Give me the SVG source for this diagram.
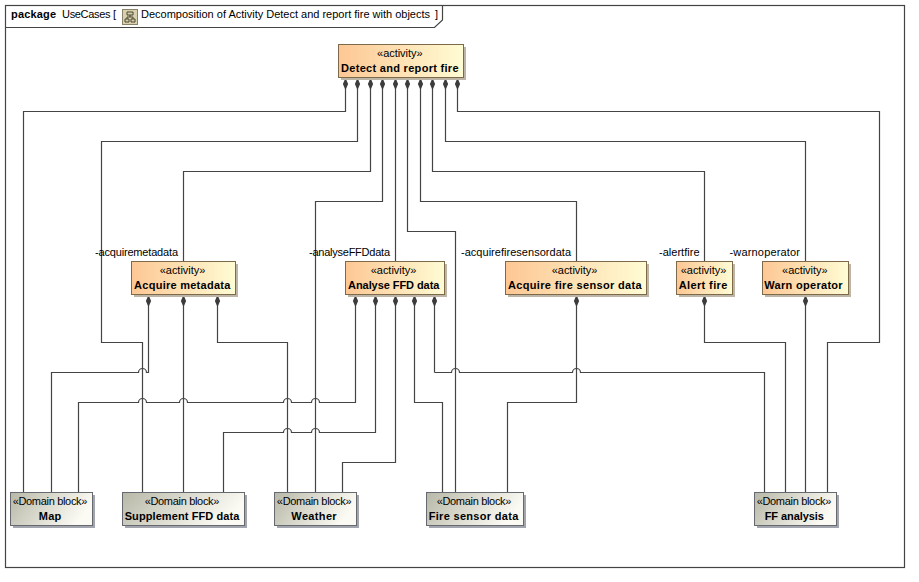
<svg xmlns="http://www.w3.org/2000/svg" width="919" height="582" viewBox="0 0 919 582">
<style>
text{font-family:"Liberation Sans",Arial,sans-serif;font-size:11px;fill:#000}
.b{font-weight:bold}
.m{text-anchor:middle}
.f{fill:none;stroke:#444;stroke-width:1.2}
.c path{fill:none;stroke:#444;stroke-width:1.2;marker-end:url(#d)}
.c path.p{marker-end:none}
.a{fill:url(#ga);stroke:#7d6a4a;stroke-width:1}
.s{fill:url(#gs);stroke:#666a70;stroke-width:1}
.sa{fill:#bdb6a6}
.ss{fill:#a2a4ae}
</style>
<defs>
<linearGradient id="ga" x1="0" y1="0" x2="1" y2="0"><stop offset="0" stop-color="#fdc794"/><stop offset="1" stop-color="#fffcd4"/></linearGradient>
<linearGradient id="gs" x1="0" y1="0" x2="1" y2="0.3"><stop offset="0" stop-color="#b8b8a8"/><stop offset="1" stop-color="#fbfbf4"/></linearGradient>
<marker id="d" markerUnits="userSpaceOnUse" viewBox="-13 -3.5 14 7" refX="0" refY="0" markerWidth="14" markerHeight="7" orient="auto"><path d="M0 0L-6 -2.6L-12 0L-6 2.6Z" fill="#3c3c3c"/></marker>
</defs>
<rect width="919" height="582" fill="#fff"/>
<g id="frame">
<rect class="f" x="5.5" y="5.5" width="899" height="562"/>
<path class="f" d="M5.5 27.5H434.5L442.5 20V5.5"/>
<text x="11" y="18" class="b" textLength="45">package</text>
<text x="62" y="18" textLength="54">UseCases [</text>
<g id="icon"><rect x="122.5" y="9.5" width="15" height="15" fill="#d8cfae" stroke="#8a8268"/><path d="M127 12h6v3h-6zM125 19h4v3h-4zM131 19h4v3h-4zM130 15v2M127 19v-2h6v2" fill="none" stroke="#4a4632"/></g>
<text x="141" y="18" textLength="289">Decomposition of Activity Detect and report fire with objects</text>
<text x="435" y="18">]</text>
</g>
<g id="connectors" class="c">
<path d="M23.5 492V111.5H345.5V78"/>
<path d="M142.5 492V342.5H101.5V141.5H357.5V78"/>
<path d="M183.5 262V171.5H370.5V78"/>
<path d="M315.5 492V201.5H382.5V78"/>
<path d="M395.5 262V78"/>
<path d="M455.5 492V231.5H407.5V78"/>
<path d="M576.5 262V201.5H420.5V78"/>
<path d="M704.5 262V171.5H432.5V78"/>
<path d="M805.5 262V141.5H445.5V78"/>
<path d="M827.5 492V342.5H879.5V111.5H457.5V78"/>
<path d="M51.5 492V372.5H138.5a4 4 0 0 1 8 0H148.5V295"/>
<path d="M183.5 492V295"/>
<path d="M287.5 492V342.5H217.5V295"/>
<path d="M78.5 492V402.5H138.5a4 4 0 0 1 8 0H179.5a4 4 0 0 1 8 0H283.5a4 4 0 0 1 8 0H311.5a4 4 0 0 1 8 0H355.5V295"/>
<path d="M223.5 492V432.5H283.5a4 4 0 0 1 8 0H311.5a4 4 0 0 1 8 0H375.5V295"/>
<path d="M342.5 492V462.5H395.5V295"/>
<path d="M442.5 492V402.5H414.5V295"/>
<path class="p" d="M764.5 492V372.5H580.5a4 4 0 0 0 -8 0H459.5a4 4 0 0 0 -8 0H434.5"/>
<path d="M434.5 372.5V295"/>
<path d="M507.5 492V402.5H576.5V295"/>
<path d="M785.5 492V342.5H704.5V295"/>
<path d="M805.5 492V295"/>
</g>
<g id="labels">
<text x="95" y="256" textLength="83">-acquiremetadata</text>
<text x="309" y="256" textLength="81">-analyseFFDdata</text>
<text x="461" y="256" textLength="110">-acquirefiresensordata</text>
<text x="659" y="256" textLength="40.5">-alertfire</text>
<text x="729.5" y="256" textLength="70.5">-warnoperator</text>
</g>
<g id="detect"><rect class="sa" x="341" y="47" width="125" height="33"/><rect class="a" x="338.5" y="44.5" width="125" height="33"/><text x="399.8" y="57" class="m" textLength="45.5">«activity»</text><text x="399.8" y="72" class="m b" textLength="117.5">Detect and report fire</text></g>
<g id="acquire-metadata"><rect class="sa" x="134" y="264" width="104" height="33"/><rect class="a" x="131.5" y="261.5" width="104" height="33"/><text x="182.5" y="274" class="m" textLength="45.5">«activity»</text><text x="182.2" y="289" class="m b" textLength="96.3">Acquire metadata</text></g>
<g id="analyse"><rect class="sa" x="348" y="264" width="99" height="33"/><rect class="a" x="345.5" y="261.5" width="99" height="33"/><text x="393.5" y="274" class="m" textLength="45.5">«activity»</text><text x="393.7" y="289" class="m b" textLength="91.3">Analyse FFD data</text></g>
<g id="acquire-fire"><rect class="sa" x="508" y="264" width="141" height="33"/><rect class="a" x="505.5" y="261.5" width="141" height="33"/><text x="574.5" y="274" class="m" textLength="45.5">«activity»</text><text x="574.8" y="289" class="m b" textLength="133.7">Acquire fire sensor data</text></g>
<g id="alert"><rect class="sa" x="679" y="264" width="56" height="33"/><rect class="a" x="676.5" y="261.5" width="56" height="33"/><text x="703.5" y="274" class="m" textLength="45.5">«activity»</text><text x="703" y="289" class="m b" textLength="48.7">Alert fire</text></g>
<g id="warn"><rect class="sa" x="765" y="264" width="86" height="33"/><rect class="a" x="762.5" y="261.5" width="86" height="33"/><text x="804.8" y="274" class="m" textLength="45.5">«activity»</text><text x="803.5" y="289" class="m b" textLength="78.3">Warn operator</text></g>
<g id="map"><rect class="ss" x="13" y="495" width="82" height="33"/><rect class="s" x="10.5" y="492.5" width="82" height="33"/><text x="50" y="505" class="m" textLength="74.7">«Domain block»</text><text x="50" y="520" class="m b" textLength="22.7">Map</text></g>
<g id="supplement"><rect class="ss" x="125" y="495" width="122" height="33"/><rect class="s" x="122.5" y="492.5" width="122" height="33"/><text x="182" y="505" class="m" textLength="74.7">«Domain block»</text><text x="182" y="520" class="m b" textLength="114.7">Supplement FFD data</text></g>
<g id="weather"><rect class="ss" x="277" y="495" width="82" height="33"/><rect class="s" x="274.5" y="492.5" width="82" height="33"/><text x="314.2" y="505" class="m" textLength="74.7">«Domain block»</text><text x="314" y="520" class="m b" textLength="45.3">Weather</text></g>
<g id="fire-sensor"><rect class="ss" x="429" y="495" width="97" height="33"/><rect class="s" x="426.5" y="492.5" width="97" height="33"/><text x="474" y="505" class="m" textLength="74.7">«Domain block»</text><text x="473.5" y="520" class="m b" textLength="89.7">Fire sensor data</text></g>
<g id="ff-analysis"><rect class="ss" x="757" y="495" width="82" height="33"/><rect class="s" x="754.5" y="492.5" width="82" height="33"/><text x="794" y="505" class="m" textLength="74.7">«Domain block»</text><text x="794.3" y="520" class="m b" textLength="59.3">FF analysis</text></g>
</svg>
